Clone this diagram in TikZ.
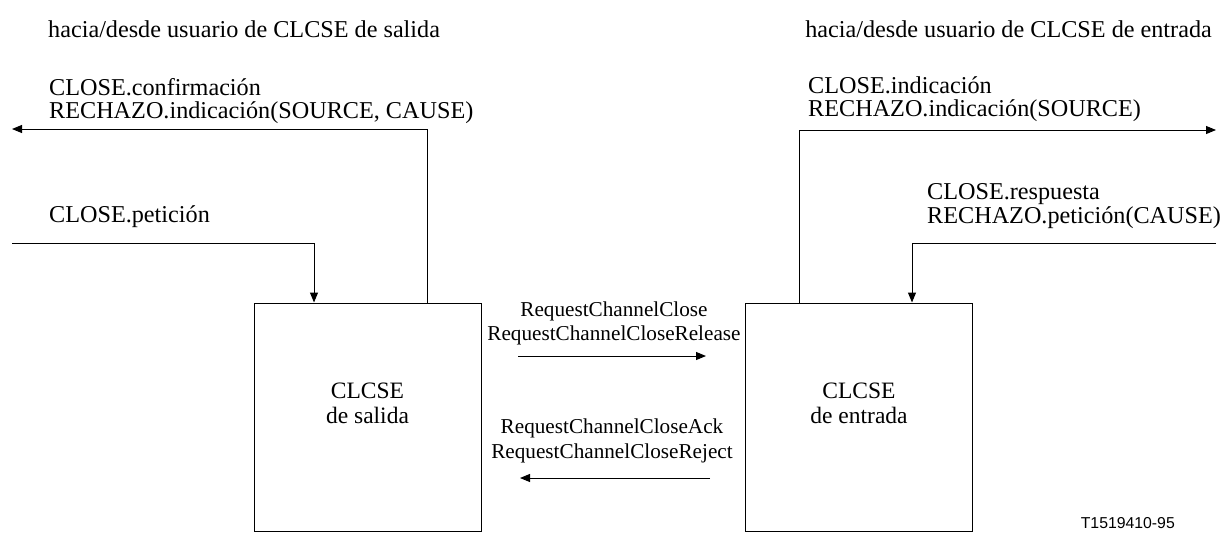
\documentclass[tikz,border=0pt]{standalone}
\usepackage{fontspec}
\setmainfont{Liberation Serif}
\newfontfamily\sansf{Liberation Sans}
\usetikzlibrary{arrows.meta}
\begin{document}
\begin{tikzpicture}[x=1pt,y=-1pt,
  line/.style={draw=black,line width=1pt},
  arr/.style={line,-{Triangle[length=10pt,width=8pt]}},
  lbl/.style={inner sep=0pt,anchor=base west,font=\fontsize{24.2}{26}\selectfont},
  ctr/.style={inner sep=0pt,anchor=base,font=\fontsize{23.5}{26}\selectfont},
  sml/.style={inner sep=0pt,anchor=base,font=\fontsize{21.2}{24}\selectfont},
  blk/.style={line,minimum width=227pt,minimum height=228pt,inner sep=0pt}]
\useasboundingbox (0,0) rectangle (1228,533);
% boxes
\node[blk] (L) at (367.5,417) {};
\node[blk] (R) at (859,417) {};
\node[ctr] (lt1) at (367.5,398) {CLCSE};
\node[ctr] (lt2) at (367.5,423) {de salida};
\node[ctr] (rt1) at (859,398) {CLCSE};
\node[ctr] (rt2) at (859,423) {de entrada};
% headers
\node[lbl] (h1) at (48,37) {hacia/desde usuario de CLCSE de salida};
\node[lbl,anchor=base east] (h2) at (1212,37) {hacia/desde usuario de CLCSE de entrada};
% left side
\coordinate (lo) at (12,129);
\coordinate (lin) at (12,243);
\node[lbl] (l1) at (49,95) {CLOSE.confirmación};
\node[lbl] (l2) at (49,118) {RECHAZO.indicación(SOURCE, CAUSE)};
\node[lbl] (l3) at (49,222) {CLOSE.petición};
\draw[arr] (L.north west -| 427,0) |- (lo);
\draw[arr] (lin) -| (L.north west -| 314,0);
% right side
\coordinate (ro) at (1216,130);
\coordinate (rin) at (1216,243);
\node[lbl] (r1) at (808,93) {CLOSE.indicación};
\node[lbl] (r2) at (808,116) {RECHAZO.indicación(SOURCE)};
\node[lbl] (r3) at (927,199) {CLOSE.respuesta};
\node[lbl] (r4) at (927,223) {RECHAZO.petición(CAUSE)};
\draw[arr] (R.north west -| 799,0) |- (ro);
\draw[arr] (rin) -| (R.north west -| 912,0);
% middle
\node[sml] (m1) at (614,316) {RequestChannelClose};
\node[sml] (m2) at (614,340) {RequestChannelCloseRelease};
\node[sml] (m3) at (612,433) {RequestChannelCloseAck};
\node[sml] (m4) at (612,458) {RequestChannelCloseReject};
\coordinate (a1s) at (518,356);
\coordinate (a1e) at (706,356);
\coordinate (a2s) at (710,478);
\coordinate (a2e) at (520,478);
\draw[arr] (a1s) -- (a1e);
\draw[arr] (a2s) -- (a2e);
\node[inner sep=0pt,anchor=base east,font=\sansf\fontsize{15.8}{18}\selectfont] (tag) at (1175,528) {T1519410-95};
\end{tikzpicture}
\end{document}
